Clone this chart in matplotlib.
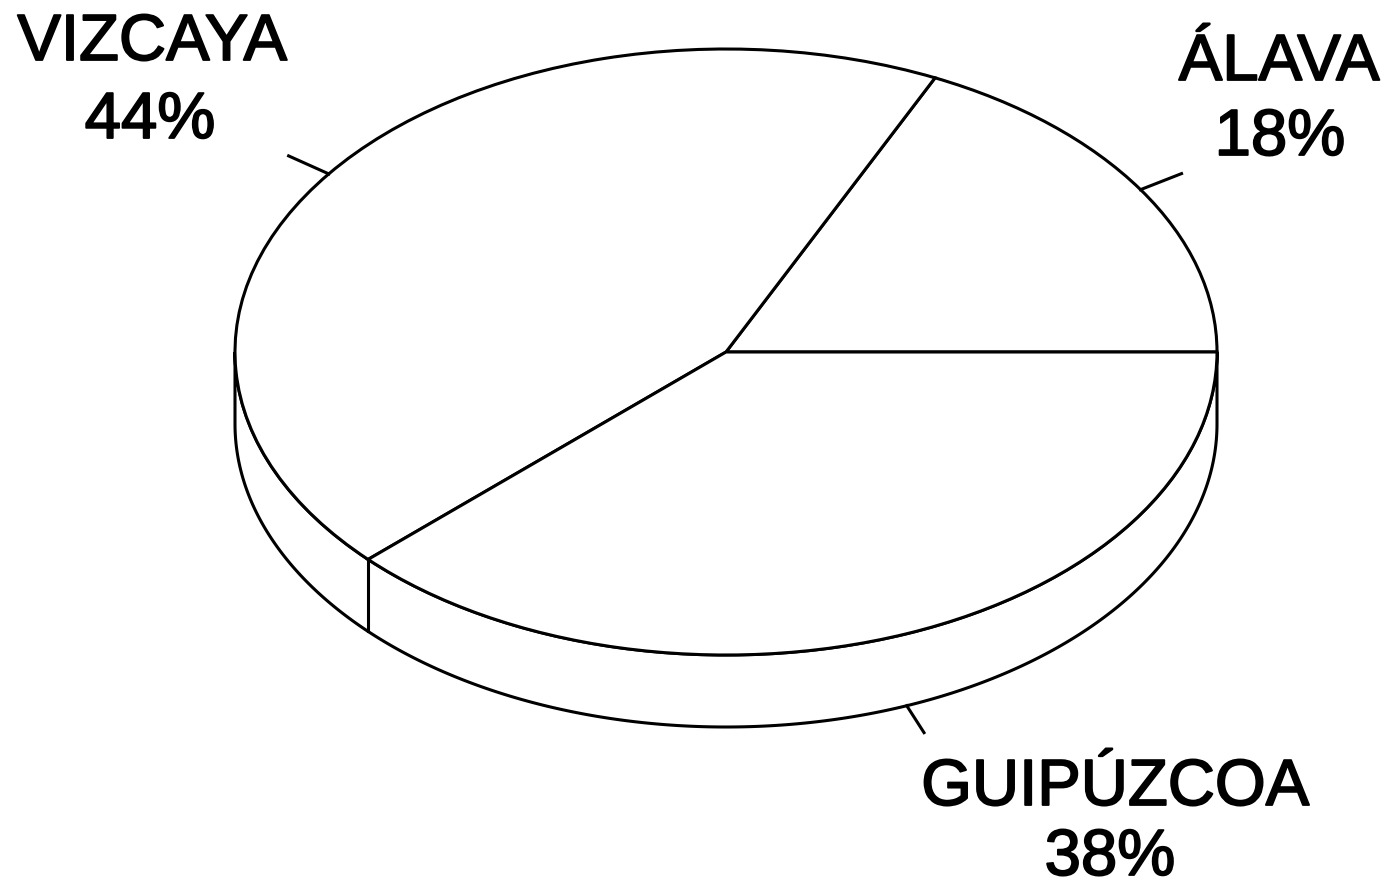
import numpy as np
import matplotlib.pyplot as plt
import matplotlib.patheffects as pe

# --- Data ---
provincias = ['ÁLAVA', 'VIZCAYA', 'GUIPÚZCOA']
porcentajes = [18, 44, 38]

# --- Geometry (pixel layout of the drawing) ---
W, H = 1387, 892
cx, cy = 726, 352      # centre of the top face
rx, ry = 491, 303      # semi-axes of the top face
depth = 72             # thickness of the disc in pixels

def to_data(px, py):
    return (px - cx) / rx, (cy - py) / ry

h = depth / ry

plt.rcParams['font.family'] = ['Liberation Sans', 'DejaVu Sans']
fig = plt.figure(figsize=(W / 100, H / 100), dpi=100)
ax = fig.add_axes([0, 0, 1, 1])

# top face as a pie (becomes an ellipse once the aspect is freed)
wedges, _ = ax.pie(porcentajes, startangle=0, counterclock=True, radius=1,
                   wedgeprops=dict(facecolor='white', edgecolor='black', linewidth=2.2),
                   normalize=True)
for w in wedges:
    w.set_zorder(3)

# side band for the front half
t = np.radians(np.linspace(180, 360, 300))
xs = np.concatenate([np.cos(t), np.cos(t[::-1])])
ys = np.concatenate([np.sin(t), np.sin(t[::-1]) - h])
ax.fill(xs, ys, facecolor='white', edgecolor='black', linewidth=2.2, zorder=2)

# vertical edges where slice boundaries meet the side
bounds = np.cumsum([0] + porcentajes) / sum(porcentajes) * 360
for b in bounds:
    if 180 < b < 360:
        r = np.radians(b)
        ax.plot([np.cos(r), np.cos(r)], [np.sin(r), np.sin(r) - h],
                color='black', lw=2.2, zorder=2)

# leader ticks at the middle of each slice
mids = (bounds[:-1] + bounds[1:]) / 2
for m in mids:
    r = np.radians(m)
    front = np.sin(r) < 0
    off = depth if front else 0
    px0 = cx + rx * np.cos(r)
    py0 = cy - ry * np.sin(r) + off
    dx, dy = px0 - cx, py0 - (cy + off)
    n = np.hypot(dx, dy)
    L = 32 if front else 44
    px1, py1 = px0 + dx / n * L, py0 + dy / n * L
    x0, y0 = to_data(px0, py0)
    x1, y1 = to_data(px1, py1)
    ax.plot([x0, x1], [y0, y1], color='black', lw=2.2, zorder=4)

# labels (name / percentage)
label_pos = {
    'ÁLAVA': ((1279, 80), (1280, 155)),
    'VIZCAYA': ((152, 60), (150, 138)),
    'GUIPÚZCOA': ((1115, 805), (1110, 875)),
}
thick = [pe.withStroke(linewidth=1.3, foreground='black')]
for nombre, pct in zip(provincias, porcentajes):
    (nx, ny), (qx, qy) = label_pos[nombre]
    ax.text(*to_data(nx, ny), nombre, ha='center', va='baseline',
            fontsize=47, color='black', path_effects=thick)
    ax.text(*to_data(qx, qy), f'{pct}%', ha='center', va='baseline',
            fontsize=47, color='black', path_effects=thick)

ax.set_aspect('auto')
ax.set_xlim(to_data(0, 0)[0], to_data(W, 0)[0])
ax.set_ylim(to_data(0, H)[1], to_data(0, 0)[1])
ax.axis('off')

fig.savefig('out.png', dpi=100, facecolor='white')
